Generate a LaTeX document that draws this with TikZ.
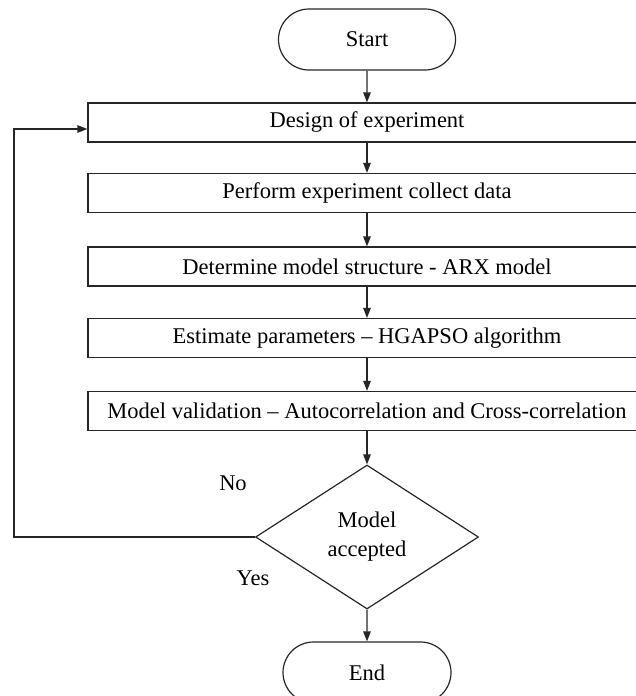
\documentclass[tikz,border=0pt]{standalone}
\usepackage{fontspec}
\setmainfont{Liberation Serif}
\usetikzlibrary{arrows.meta,shapes.geometric,shapes.misc}
\begin{document}
\begin{tikzpicture}[x=1pt,y=-1pt,
  every node/.style={font=\fontsize{22.5}{29}\selectfont, text=black},
  line/.style={line width=1.2pt, draw=black!85},
  flow/.style={line, -{Triangle[length=10pt,width=7.5pt]}},
  term/.style={line, rounded rectangle, minimum width=177pt, minimum height=61pt, inner sep=0pt},
  procbox/.style={line, rectangle, minimum width=558pt, minimum height=39pt, inner sep=0pt},
  decision/.style={line, diamond, aspect=1.55, minimum width=223pt, minimum height=144pt, inner sep=0pt, align=center},
  lbl/.style={inner sep=0pt}
]
\useasboundingbox (0,0) rectangle (636,696);
\node[term] (start) at (367,39.5) {Start};
\node[procbox] (b1) at (367,122.5) {Design of experiment};
\node[procbox] (b2) at (367,193) {Perform experiment collect data};
\node[procbox] (b3) at (367,266.5) {Determine model structure - ARX model};
\node[procbox] (b4) at (367,338) {Estimate parameters – HGAPSO algorithm};
\node[procbox] (b5) at (367,411) {Model validation – Autocorrelation and Cross-correlation};
\node[decision] (dec) at (367,537) {Model\\accepted};
\node[term, minimum width=168pt] (end) at (367,672.5) {End};
\node[lbl] (no) at (233,483) {No};
\node[lbl] (yes) at (253,578) {Yes};
\coordinate (fb) at (14,129);
\draw[flow] (start) -- (b1);
\draw[flow] (b1) -- (b2);
\draw[flow] (b2) -- (b3);
\draw[flow] (b3) -- (b4);
\draw[flow] (b4) -- (b5);
\draw[flow] (b5) -- (dec);
\draw[flow] (dec) -- (end);
\draw[flow] (dec.west) -| (fb) -- (fb -| b1.west);
\end{tikzpicture}
\end{document}
